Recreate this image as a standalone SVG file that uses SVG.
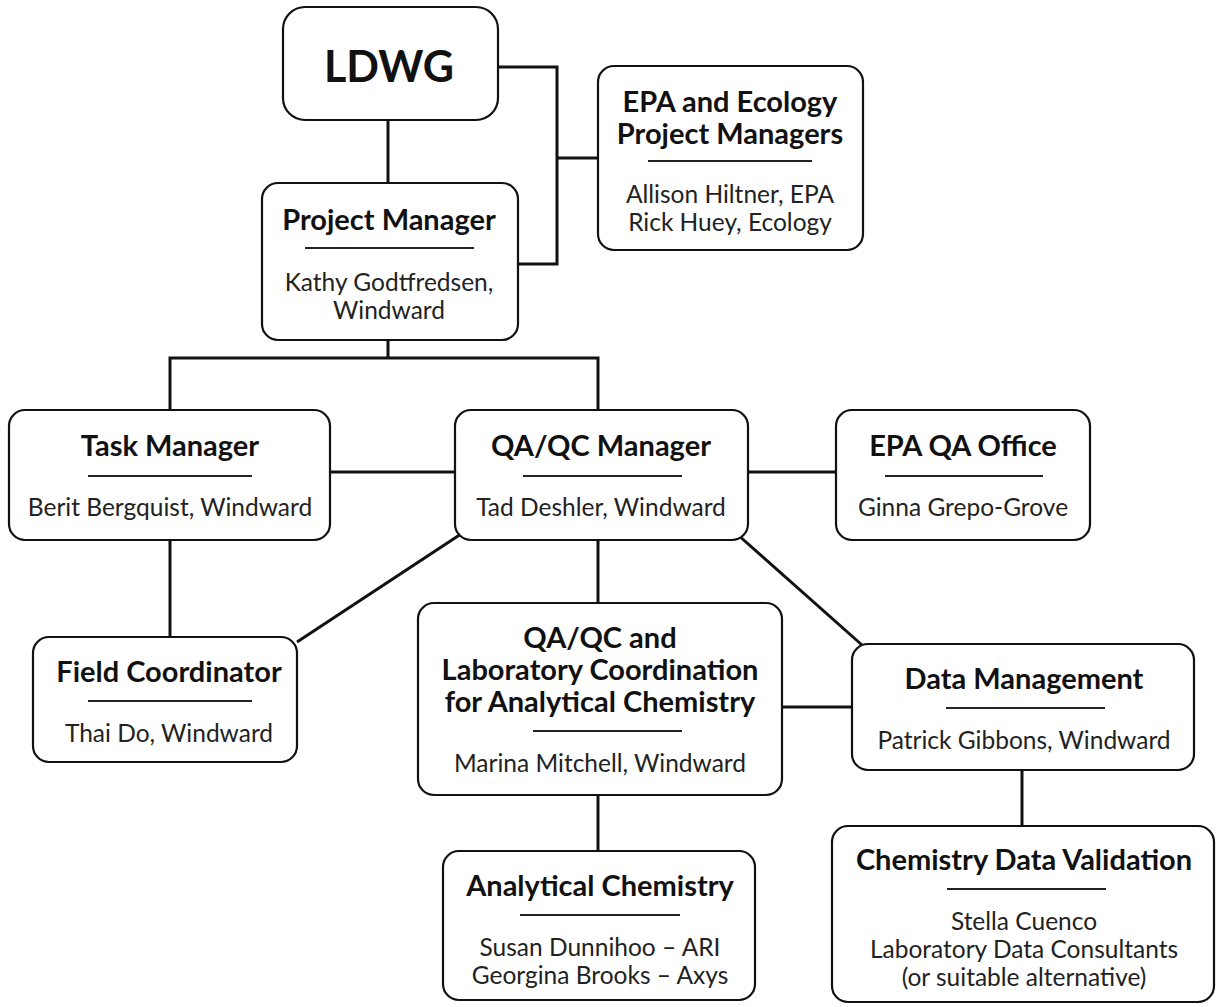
<svg xmlns="http://www.w3.org/2000/svg" width="1217" height="1007" viewBox="0 0 1217 1007">
<style>
.box{fill:#fff;stroke:#111;stroke-width:2.2}
.ul{stroke:#222;stroke-width:2}
.conn{fill:none;stroke:#111;stroke-width:3}
text{font-family:Lato,"Open Sans","Liberation Sans",sans-serif;text-anchor:middle;fill:#111}
.t{font-weight:bold;font-size:29px}
.n{font-size:24.5px;fill:#222}
</style>
<rect width="1217" height="1007" fill="#fff"/>
<g id="connectors">
<path class="conn" d="M498,67 H557 V264 H518"/>
<path class="conn" d="M557,158 H598"/>
<path class="conn" d="M388,120 V183"/>
<path class="conn" d="M388,340 V358 M170,410 V358 H598 V410"/>
<path class="conn" d="M330,472 H455"/>
<path class="conn" d="M748,472 H836"/>
<path class="conn" d="M170,540 V637"/>
<path class="conn" d="M461,534 L297,642"/>
<path class="conn" d="M598,540 V603"/>
<path class="conn" d="M738,535 L862,645"/>
<path class="conn" d="M782,707 H852"/>
<path class="conn" d="M1022,770 V826"/>
<path class="conn" d="M598,795 V851"/>
</g>
<g id="ldwg">
<rect class="box" x="283" y="7" width="215" height="113" rx="22"/>
<text x="389" y="82" font-weight="bold" font-size="43">LDWG</text>
</g>
<g id="epa-ecology">
<rect class="box" x="598" y="66" width="265" height="184" rx="16"/>
<text class="t" x="730" y="112">EPA and Ecology</text>
<text class="t" x="730" y="144">Project Managers</text>
<line class="ul" x1="648" y1="161" x2="812" y2="161"/>
<text class="n" x="730" y="203">Allison Hiltner, EPA</text>
<text class="n" x="730" y="231">Rick Huey, Ecology</text>
</g>
<g id="project-manager">
<rect class="box" x="262" y="183" width="256" height="157" rx="16"/>
<text class="t" x="389" y="230">Project Manager</text>
<line class="ul" x1="305" y1="248" x2="474" y2="248"/>
<text class="n" x="389" y="291">Kathy Godtfredsen,</text>
<text class="n" x="389" y="319">Windward</text>
</g>
<g id="task-manager">
<rect class="box" x="9" y="410" width="321" height="130" rx="16"/>
<text class="t" x="170" y="456">Task Manager</text>
<line class="ul" x1="88" y1="476" x2="252" y2="476"/>
<text class="n" x="170" y="516">Berit Bergquist, Windward</text>
</g>
<g id="qaqc-manager">
<rect class="box" x="455" y="410" width="293" height="130" rx="16"/>
<text class="t" x="601" y="456">QA/QC Manager</text>
<line class="ul" x1="523" y1="476" x2="682" y2="476"/>
<text class="n" x="601" y="516">Tad Deshler, Windward</text>
</g>
<g id="epa-qa-office">
<rect class="box" x="836" y="410" width="254" height="130" rx="16"/>
<text class="t" x="963" y="456">EPA QA Office</text>
<line class="ul" x1="885" y1="476" x2="1043" y2="476"/>
<text class="n" x="963" y="516">Ginna Grepo-Grove</text>
</g>
<g id="field-coordinator">
<rect class="box" x="33" y="637" width="264" height="125" rx="16"/>
<text class="t" x="169" y="682">Field Coordinator</text>
<line class="ul" x1="88" y1="701" x2="252" y2="701"/>
<text class="n" x="169" y="742">Thai Do, Windward</text>
</g>
<g id="qaqc-lab">
<rect class="box" x="418" y="603" width="364" height="192" rx="16"/>
<text class="t" x="600" y="648">QA/QC and</text>
<text class="t" x="600" y="680">Laboratory Coordination</text>
<text class="t" x="600" y="712">for Analytical Chemistry</text>
<line class="ul" x1="533" y1="731" x2="682" y2="731"/>
<text class="n" x="600" y="772">Marina Mitchell, Windward</text>
</g>
<g id="data-management">
<rect class="box" x="852" y="644" width="342" height="126" rx="16"/>
<text class="t" x="1024" y="689">Data Management</text>
<line class="ul" x1="946" y1="708" x2="1105" y2="708"/>
<text class="n" x="1024" y="749">Patrick Gibbons, Windward</text>
</g>
<g id="analytical-chemistry">
<rect class="box" x="443" y="851" width="312" height="149" rx="16"/>
<text class="t" x="600" y="896">Analytical Chemistry</text>
<line class="ul" x1="520" y1="915" x2="680" y2="915"/>
<text class="n" x="600" y="956">Susan Dunnihoo – ARI</text>
<text class="n" x="600" y="984">Georgina Brooks – Axys</text>
</g>
<g id="chemistry-data-validation">
<rect class="box" x="832" y="826" width="382" height="176" rx="16"/>
<text class="t" x="1024" y="870">Chemistry Data Validation</text>
<line class="ul" x1="947" y1="889" x2="1106" y2="889"/>
<text class="n" x="1024" y="930">Stella Cuenco</text>
<text class="n" x="1024" y="958">Laboratory Data Consultants</text>
<text class="n" x="1024" y="986">(or suitable alternative)</text>
</g>
</svg>
